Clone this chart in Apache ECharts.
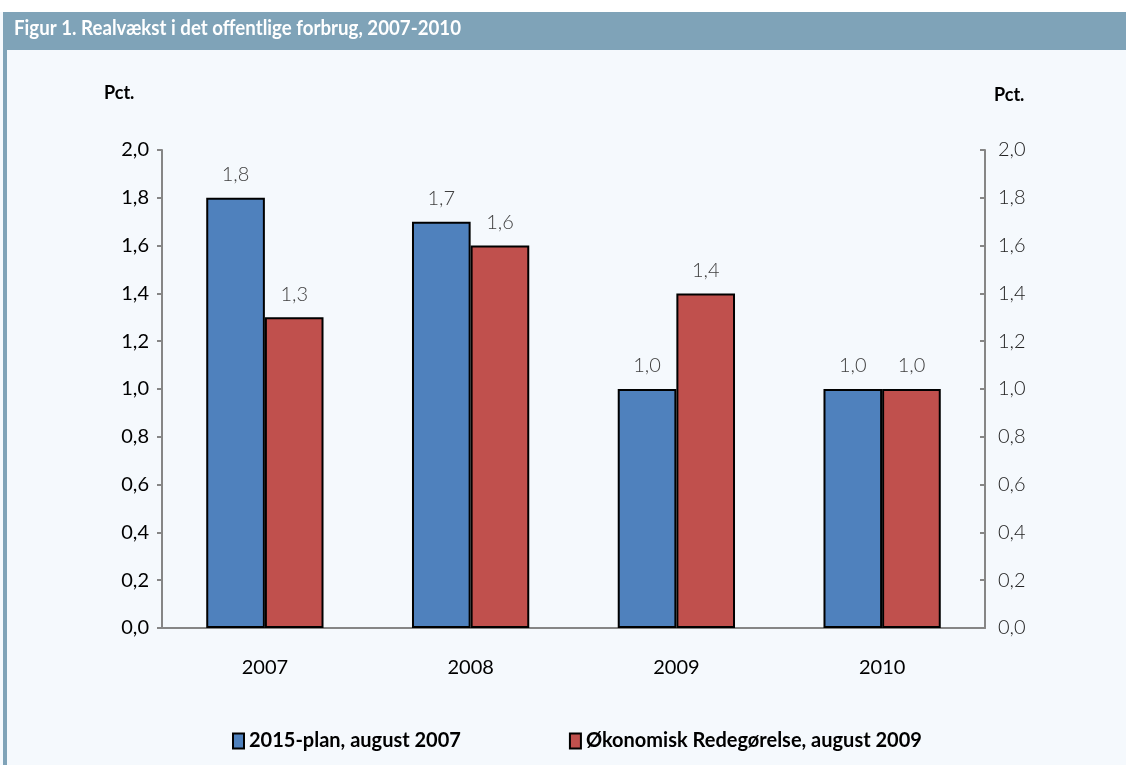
<!DOCTYPE html>
<html>
<head>
<meta charset="utf-8">
<script src="https://cdn.jsdelivr.net/npm/echarts@6/dist/echarts.min.js"></script>
<style>
  html, body { margin: 0; padding: 0; background: #ffffff; }
  #chart { width: 1126px; height: 765px; }
</style>
</head>
<body>
<div id="chart"></div>
<script>
var years = ['2007', '2008', '2009', '2010'];
var plan2015 = [1.8, 1.7, 1.0, 1.0];
var oekRedeg = [1.3, 1.6, 1.4, 1.0];
var seriesNames = ['2015-plan, august 2007', 'Økonomisk Redegørelse, august 2009'];

var fontName = 'Lato, "Open Sans", sans-serif';
var chart = echarts.init(document.getElementById('chart'));

function fmt(v) {
    return v.toFixed(1).replace('.', ',');
}

var valueAxis = {
    type: 'value',
    min: 0,
    max: 2,
    interval: 0.2,
    splitLine: { show: false },
    axisLine: { show: true, lineStyle: { color: '#868686', width: 2 } },
    axisTick: { show: true, length: 5, lineStyle: { color: '#868686', width: 2 } },
    axisLabel: {
        formatter: fmt,
        fontFamily: fontName,
        fontSize: 20,
        color: '#000000',
        margin: 13
    }
};

chart.setOption({
    backgroundColor: '#f5f9fd',
    animation: false,
    graphic: [
        { type: 'rect', shape: { x: 0, y: 0, width: 1126, height: 12 }, style: { fill: '#ffffff' } },
        { type: 'rect', shape: { x: 3, y: 12, width: 1123, height: 38 }, style: { fill: '#7fa3b8' } },
        { type: 'rect', shape: { x: 3, y: 50, width: 4, height: 715 }, style: { fill: '#7fa3b8' } },
        {
            type: 'text', x: 14, y: 18, scaleX: 0.89,
            style: { text: 'Figur 1. Realvækst i det offentlige forbrug, 2007-2010', fill: '#ffffff', font: 'bold 21px ' + fontName }
        },
        {
            type: 'text', left: 104, top: 84,
            style: { text: 'Pct.', fill: '#000000', font: 'bold 18px ' + fontName }
        },
        {
            type: 'text', left: 994, top: 86,
            style: { text: 'Pct.', fill: '#000000', font: 'bold 18px ' + fontName }
        }
    ],
    grid: { left: 162, right: 141, top: 150, bottom: 137, containLabel: false },
    legend: {
        bottom: 14,
        left: 232,
        padding: 0,
        itemGap: 108,
        itemWidth: 11,
        itemHeight: 15,
        icon: 'rect',
        textStyle: { fontFamily: fontName, fontWeight: 'bold', fontSize: 20, color: '#000000' },
        data: seriesNames
    },
    xAxis: {
        type: 'category',
        data: years,
        axisLine: { lineStyle: { color: '#868686', width: 2 } },
        axisTick: { length: 6, lineStyle: { color: '#868686', width: 2 } },
        axisLabel: { fontFamily: fontName, fontSize: 20, color: '#000000', margin: 30 }
    },
    yAxis: [
        valueAxis,
        Object.assign({}, valueAxis, {
            position: 'right',
            axisTick: { show: true, inside: true, length: 5, lineStyle: { color: '#868686', width: 2 } },
            axisLabel: {
                formatter: fmt,
                fontFamily: fontName,
                fontWeight: 300,
                fontSize: 20,
                color: '#222222',
                margin: 13
            }
        })
    ],
    series: [
        {
            name: seriesNames[0],
            type: 'bar',
            data: plan2015,
            barGap: '0%',
            barCategoryGap: '43%',
            itemStyle: { color: '#4f81bd', borderColor: '#000000', borderWidth: 2 },
            label: {
                show: true, position: 'top', distance: 13, formatter: function (p) { return fmt(p.value); },
                fontFamily: fontName, fontWeight: 300, fontSize: 20, color: '#404040'
            }
        },
        {
            name: seriesNames[1],
            type: 'bar',
            data: oekRedeg,
            itemStyle: { color: '#c0504d', borderColor: '#000000', borderWidth: 2 },
            label: {
                show: true, position: 'top', distance: 13, formatter: function (p) { return fmt(p.value); },
                fontFamily: fontName, fontWeight: 300, fontSize: 20, color: '#404040'
            }
        }
    ]
});
</script>
</body>
</html>
